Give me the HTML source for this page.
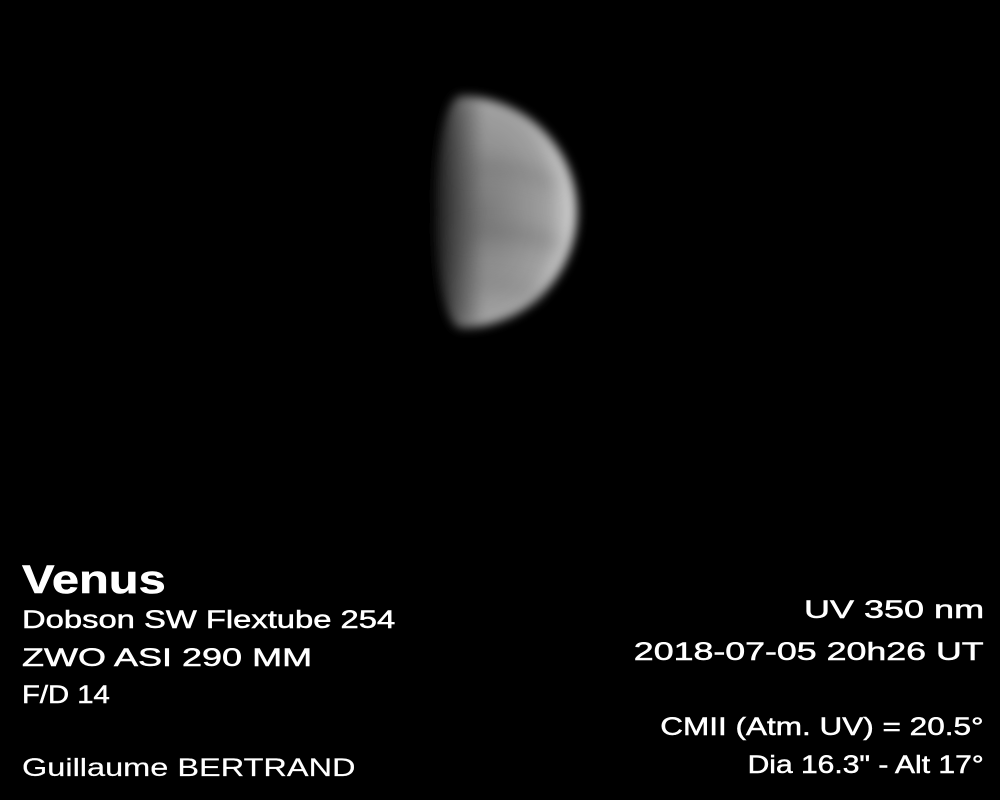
<!DOCTYPE html>
<html><head><meta charset="utf-8"><style>
html,body{margin:0;padding:0;background:#000;}
#wrap{position:relative;width:1000px;height:800px;background:#000;overflow:hidden;font-family:"Liberation Sans",sans-serif;color:#fff;}
.t{position:absolute;white-space:nowrap;font-size:25px;line-height:1;-webkit-text-stroke:0.5px #fff;transform-origin:left top;}
.r{transform-origin:right top;}
</style></head><body>
<div id="wrap">
<svg width="1000" height="800" style="position:absolute;left:0;top:0">
<defs>
<filter id="b" x="-30%" y="-30%" width="160%" height="160%"><feGaussianBlur stdDeviation="5"/></filter>
<filter id="b2" x="-30%" y="-30%" width="160%" height="160%"><feGaussianBlur stdDeviation="9"/></filter>
<radialGradient id="g" cx="0.35" cy="0.5" r="0.75">
<stop offset="0" stop-color="#7a7a7a"/>
<stop offset="0.6" stop-color="#a0a0a0"/>
<stop offset="0.9" stop-color="#dcdcdc"/>
<stop offset="1" stop-color="#c8c8c8"/>
</radialGradient>
<linearGradient id="lg" x1="0" x2="1" y1="0" y2="0">
<stop offset="0" stop-color="#000" stop-opacity="0.85"/>
<stop offset="0.35" stop-color="#000" stop-opacity="0"/>
</linearGradient>
</defs>
<g filter="url(#b)">
<path d="M461,96 A116,116 0 0 1 461,328 A26,116 0 0 1 461,96 Z" fill="url(#g)"/>
<path d="M461,96 A116,116 0 0 1 461,328 A26,116 0 0 1 461,96 Z" fill="url(#lg)"/>
</g>
<g filter="url(#b2)" opacity="0.3">
<path d="M460,170 Q510,160 555,185" stroke="#555" stroke-width="10" fill="none"/>
<path d="M455,235 Q505,225 560,245" stroke="#555" stroke-width="12" fill="none"/>
<path d="M460,285 Q500,280 540,295" stroke="#666" stroke-width="10" fill="none"/>
</g>
</svg>
<div class="t" style="left:22px;top:560px;font-size:40px;font-weight:bold;transform:scaleX(1.22)">Venus</div>
<div class="t" style="left:22px;top:608px;transform:scaleX(1.31)">Dobson SW Flextube 254</div>
<div class="t" style="left:22px;top:646px;transform:scaleX(1.44)">ZWO ASI 290 MM</div>
<div class="t" style="left:22px;top:683px;transform:scaleX(1.17)">F/D 14</div>
<div class="t" style="left:22px;top:756px;transform:scaleX(1.3);-webkit-text-stroke:0.2px #fff">Guillaume BERTRAND</div>
<div class="t r" style="right:16px;top:598px;transform:scaleX(1.44)">UV 350 nm</div>
<div class="t r" style="right:16px;top:640px;transform:scaleX(1.43)">2018-07-05 20h26 UT</div>
<div class="t r" style="right:16px;top:715px;transform:scaleX(1.26)">CMII (Atm. UV) = 20.5°</div>
<div class="t r" style="right:16px;top:753px;transform:scaleX(1.2)">Dia 16.3" - Alt 17°</div>
</div>
</body></html>
